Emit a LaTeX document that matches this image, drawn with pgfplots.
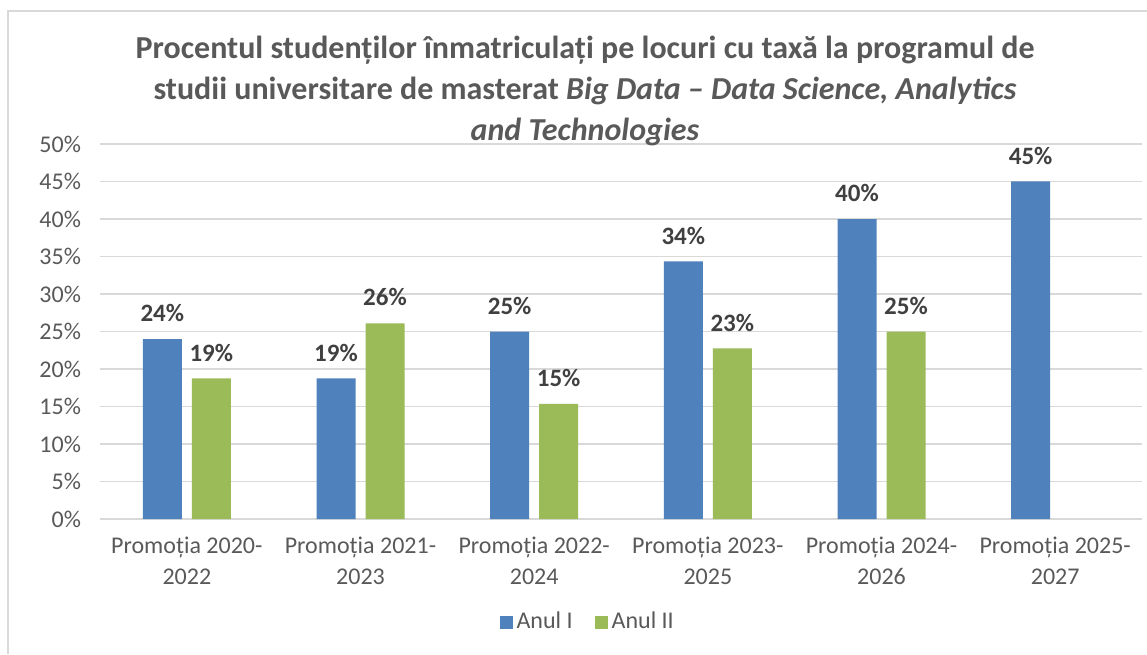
\documentclass[border=0pt]{standalone}
\usepackage{fontspec}
\setmainfont{Carlito}
\usepackage{pgfplots}
\pgfplotsset{compat=1.18}
\definecolor{barblue}{HTML}{4F81BD}
\definecolor{bargreen}{HTML}{9BBB59}
\definecolor{txtgray}{HTML}{595959}
\definecolor{lblgray}{HTML}{404040}
\definecolor{gridgray}{HTML}{D9D9D9}

\begin{document}
\begin{tikzpicture}
\useasboundingbox (-50pt,-67.5pt) rectangle (523.5pt,259.5pt);
\draw[gridgray, line width=0.6pt] (-46pt,-67.5pt) -- (-46pt,254pt) -- (523.5pt,254pt);
\begin{axis}[
    at={(0,0)}, anchor=south west,
    scale only axis, width=521pt, height=187.5pt,
    ybar=5pt, bar width=19.5pt,
    xmin=-0.5, xmax=5.5,
    ymin=0, ymax=50,
    xtick={0,...,5},
    xticklabels={{Promoția 2020-\\2022},{Promoția 2021-\\2023},{Promoția 2022-\\2024},{Promoția 2023-\\2025},{Promoția 2024-\\2026},{Promoția 2025-\\2027}},
    ytick={0,5,...,50},
    yticklabel={\pgfmathprintnumber{\tick}\%},
    /pgf/number format/assume math mode=true,
    axis line style={draw=none},
    major tick length=0pt,
    ymajorgrids, major grid style={gridgray, line width=0.7pt},
    tick label style={text=txtgray, font=\fontsize{12}{15.5}\selectfont},
    yticklabel style={anchor=east, xshift=-6pt},
    xticklabel style={align=center, anchor=north, yshift=-5.5pt},
    nodes near coords={\pgfmathprintnumber[fixed,precision=0]{\pgfplotspointmeta}\%},
    every node near coord/.append style={font=\fontsize{12.5}{13}\selectfont\bfseries, text=lblgray, yshift=5pt},
    legend columns=2,
    legend style={draw=none, at={(0.469,-0.275)}, anchor=center,
        font=\fontsize{12}{13}\selectfont, text=txtgray,
        /tikz/every even column/.append style={column sep=9pt}},
    legend image code/.code={\fill[#1] (0pt,-3.25pt) rectangle (6.5pt,3.25pt);},
]
\addplot[fill=barblue, draw=none] coordinates {(0,24) (1,18.75) (2,25) (3,34.35) (4,40) (5,45)};
\addplot[fill=bargreen, draw=none] coordinates {(0,18.75) (1,26.1) (2,15.35) (3,22.75) (4,25)};
\legend{Anul I, Anul II}
\end{axis}
\node[align=center, text=txtgray, font=\fontsize{16}{20.5}\selectfont\bfseries] at (242.5pt,214pt)
  {Procentul studenților înmatriculați pe locuri cu taxă la programul de\\
   studii universitare de masterat \textit{Big Data – Data Science, Analytics}\\
   \textit{and Technologies}};
\end{tikzpicture}
\end{document}
